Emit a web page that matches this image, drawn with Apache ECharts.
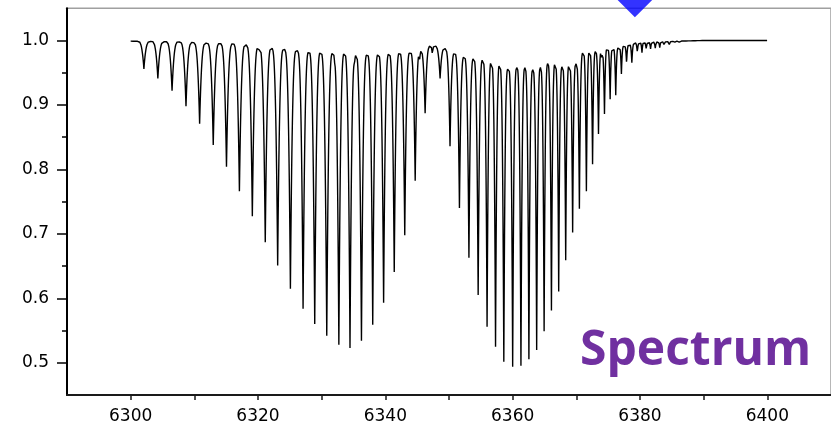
<!DOCTYPE html>
<html>
<head>
<meta charset="utf-8">
<script src="https://cdn.jsdelivr.net/npm/echarts@6/dist/echarts.min.js"></script>
<style>
  html, body { margin: 0; padding: 0; background: #ffffff; }
  #chart { width: 831px; height: 425px; }
</style>
</head>
<body>
<div id="chart"></div>
<script>
// Main absorption lines: centre wavelength and trough level.
const lineCentres = [
  6302.08, 6304.27, 6306.50, 6308.69, 6310.83, 6312.97, 6315.05, 6317.08,
  6319.11, 6321.14, 6323.09, 6325.09, 6327.08, 6328.91, 6330.80, 6332.70,
  6334.45, 6336.25, 6338.02, 6339.73, 6341.40, 6343.05, 6344.69, 6346.25,
  6348.60, 6350.16, 6351.64, 6353.13, 6354.58, 6355.98, 6357.31, 6358.61,
  6360.00, 6361.30, 6362.55, 6363.77, 6364.94, 6366.09, 6367.23, 6368.33,
  6369.42, 6370.48, 6371.58, 6372.55, 6373.48, 6374.42, 6375.31, 6376.19,
  6377.08, 6377.89, 6378.72, 6379.58, 6380.31, 6380.98, 6381.66, 6382.40,
  6383.10, 6383.80, 6384.60, 6385.40, 6386.20
];
const lineMinima = [
  0.956, 0.941, 0.922, 0.898, 0.871, 0.838, 0.804, 0.766,
  0.7275, 0.687, 0.651, 0.615, 0.584, 0.560, 0.542, 0.528,
  0.523, 0.534, 0.559, 0.593, 0.641, 0.698, 0.7825, 0.887,
  0.941, 0.836, 0.740, 0.663, 0.605, 0.556, 0.525, 0.5015,
  0.494, 0.4955, 0.5055, 0.520, 0.549, 0.581, 0.6105, 0.659,
  0.702, 0.739, 0.766, 0.808, 0.855, 0.886, 0.909, 0.915,
  0.948, 0.965, 0.9655, 0.981, 0.981, 0.986, 0.987, 0.988,
  0.989, 0.992, 0.994, 0.996, 0.997
];

// Weak lines sitting near the tops between the main lines.
const weakCentres = [
  6320.16, 6322.50, 6324.47, 6326.56, 6328.48, 6330.20, 6332.03, 6335.16,
  6341.92, 6343.48, 6345.40, 6347.39,
  6367.70, 6368.85, 6369.94,
  6373.98, 6374.90, 6375.75, 6376.65, 6377.50, 6378.30
];
const weakMinima = [
  0.986, 0.981, 0.976, 0.971, 0.973, 0.968, 0.9655, 0.963,
  0.965, 0.968, 0.971, 0.978,
  0.958, 0.960, 0.963,
  0.972, 0.984, 0.985, 0.986, 0.990, 0.992
];

// Upper envelope of the transmission (level of the tops between lines).
const envelopeX = [
  6300.0, 6307.0, 6313.0, 6316.0, 6318.0, 6320.3, 6322.0, 6323.9, 6325.8, 6327.9,
  6329.7, 6331.5, 6333.6, 6335.4, 6337.2, 6338.8, 6340.7, 6342.4, 6343.9, 6345.0,
  6346.6, 6347.5, 6349.1, 6350.8, 6352.4, 6353.8, 6355.2, 6356.6, 6357.8, 6359.3,
  6360.5, 6361.9, 6363.2, 6364.3, 6365.5, 6366.6, 6367.8, 6368.9, 6369.9, 6371.0,
  6372.1, 6373.0, 6374.0, 6374.9, 6375.7, 6376.6, 6377.5, 6378.3, 6379.1, 6380.7,
  6382.5, 6385.7, 6390.0, 6400.0
];
const envelopeY = [
  0.999, 0.998, 0.9955, 0.995, 0.9935, 0.990, 0.9885, 0.9866, 0.9845, 0.983,
  0.982, 0.9815, 0.9805, 0.979, 0.9787, 0.9787, 0.980, 0.9815, 0.982, 0.983,
  0.991, 0.9925, 0.989, 0.981, 0.975, 0.972, 0.970, 0.967, 0.9635, 0.9555,
  0.958, 0.958, 0.9545, 0.958, 0.9645, 0.9645, 0.963, 0.9645, 0.967, 0.981,
  0.983, 0.983, 0.986, 0.991, 0.9915, 0.991, 0.9935, 0.995, 0.9965, 0.9975,
  0.998, 0.999, 1.000, 1.000
];

// Marker above the plot.
const markerX = [6379.2];
const markerY = [1.064];

// Axis ticks and labels.
const xTickValues = [6300, 6310, 6320, 6330, 6340, 6350, 6360, 6370, 6380, 6390, 6400];
const xLabelValues = [6300, 6320, 6340, 6360, 6380, 6400];
const yLabelValues = [0.5, 0.6, 0.7, 0.8, 0.9, 1.0];
const yMinorTickValues = [0.55, 0.65, 0.75, 0.85, 0.95];

const spectrumStart = 6300;
const spectrumEnd = 6400;
const sampleStep = 0.04;

// Continuum level at x, from the envelope knots.
function envelopeAt(x) {
  if (x <= envelopeX[0]) return envelopeY[0];
  for (let i = 1; i < envelopeX.length; i++) {
    if (x <= envelopeX[i]) {
      const t = (x - envelopeX[i - 1]) / (envelopeX[i] - envelopeX[i - 1]);
      return envelopeY[i - 1] + t * (envelopeY[i] - envelopeY[i - 1]);
    }
  }
  return envelopeY[envelopeY.length - 1];
}

// Half-width of each main line: half the gap to its nearest neighbour.
const lineHalfWidth = lineCentres.map((c, i) => {
  const left = i > 0 ? c - lineCentres[i - 1] : Infinity;
  const right = i < lineCentres.length - 1 ? lineCentres[i + 1] - c : Infinity;
  return Math.min(0.5 * Math.min(left, right), 0.95);
});
const lineAmp = lineCentres.map((c, i) => envelopeAt(c) - lineMinima[i]);
const SHAPE_POW = 3;

function mainProfile(x) {
  let v = envelopeAt(x);
  for (let i = 0; i < lineCentres.length; i++) {
    const u = Math.abs(x - lineCentres[i]) / lineHalfWidth[i];
    if (u < 1) v -= lineAmp[i] * Math.pow(1 - u, SHAPE_POW);
  }
  return v;
}

const WEAK_HALF = 0.28;
const weakAmp = weakCentres.map((c, i) => Math.max(0, mainProfile(c) - weakMinima[i]));

function spectrumAt(x) {
  let v = mainProfile(x);
  for (let i = 0; i < weakCentres.length; i++) {
    const u = Math.abs(x - weakCentres[i]) / WEAK_HALF;
    if (u < 1) v -= weakAmp[i] * Math.pow(1 - u, 2);
  }
  return v;
}

// Sample positions: a fine grid plus every line centre so troughs are hit exactly.
const xs = [];
for (let x = spectrumStart; x <= spectrumEnd + 1e-9; x += sampleStep) xs.push(+x.toFixed(4));
lineCentres.forEach(c => xs.push(c));
weakCentres.forEach(c => xs.push(c));
xs.sort((a, b) => a - b);
const spectrum = xs.map(x => [x, spectrumAt(x)]);

const chart = echarts.init(document.getElementById('chart'), null, { renderer: 'canvas' });

const labelFont = { fontFamily: 'DejaVu Sans', fontSize: 17, color: '#000000' };

chart.setOption({
  animation: false,
  backgroundColor: '#ffffff',
  grid: {
    left: 67, top: 8.3, width: 768, height: 388.4,
    show: true, borderColor: '#a0a0a0', borderWidth: 1.5, backgroundColor: 'transparent',
    containLabel: false
  },
  xAxis: {
    type: 'value', min: 6290, max: 6410,
    axisLine: { show: true, onZero: false, lineStyle: { color: '#1a1a1a', width: 2 } },
    axisTick: { show: true, customValues: xTickValues, length: 5, lineStyle: { color: '#1a1a1a', width: 1.5 } },
    axisLabel: Object.assign({ customValues: xLabelValues, margin: 13, formatter: v => String(v) }, labelFont),
    splitLine: { show: false }
  },
  yAxis: [
    {
      type: 'value', min: 0.45, max: 1.05,
      axisLine: { show: true, onZero: false, lineStyle: { color: '#000000', width: 2 } },
      axisTick: { show: true, customValues: yLabelValues, length: 10, lineStyle: { color: '#000000', width: 1.5 } },
      axisLabel: Object.assign({ customValues: yLabelValues, margin: 18, formatter: v => v.toFixed(1) }, labelFont),
      splitLine: { show: false }
    },
    {
      type: 'value', min: 0.45, max: 1.05, position: 'left',
      axisLine: { show: false },
      axisTick: { show: true, customValues: yMinorTickValues, length: 5, lineStyle: { color: '#000000', width: 1.5 } },
      axisLabel: { show: false },
      splitLine: { show: false }
    }
  ],
  series: [
    {
      type: 'line', data: spectrum, yAxisIndex: 0,
      showSymbol: false, symbol: 'none',
      lineStyle: { color: '#000000', width: 1.4 },
      z: 3
    },
    {
      type: 'scatter', yAxisIndex: 0,
      data: markerX.map((x, i) => [x, markerY[i]]),
      symbol: 'diamond', symbolSize: 36,
      itemStyle: { color: '#0000ff' },
      clip: false, z: 5
    }
  ],
  graphic: [
    {
      type: 'text', left: 580, top: 327,
      style: { text: 'Spectrum', font: 'bold 48px "Open Sans"', fill: '#7030A0' },
      z: 10
    }
  ]
});
</script>
</body>
</html>
